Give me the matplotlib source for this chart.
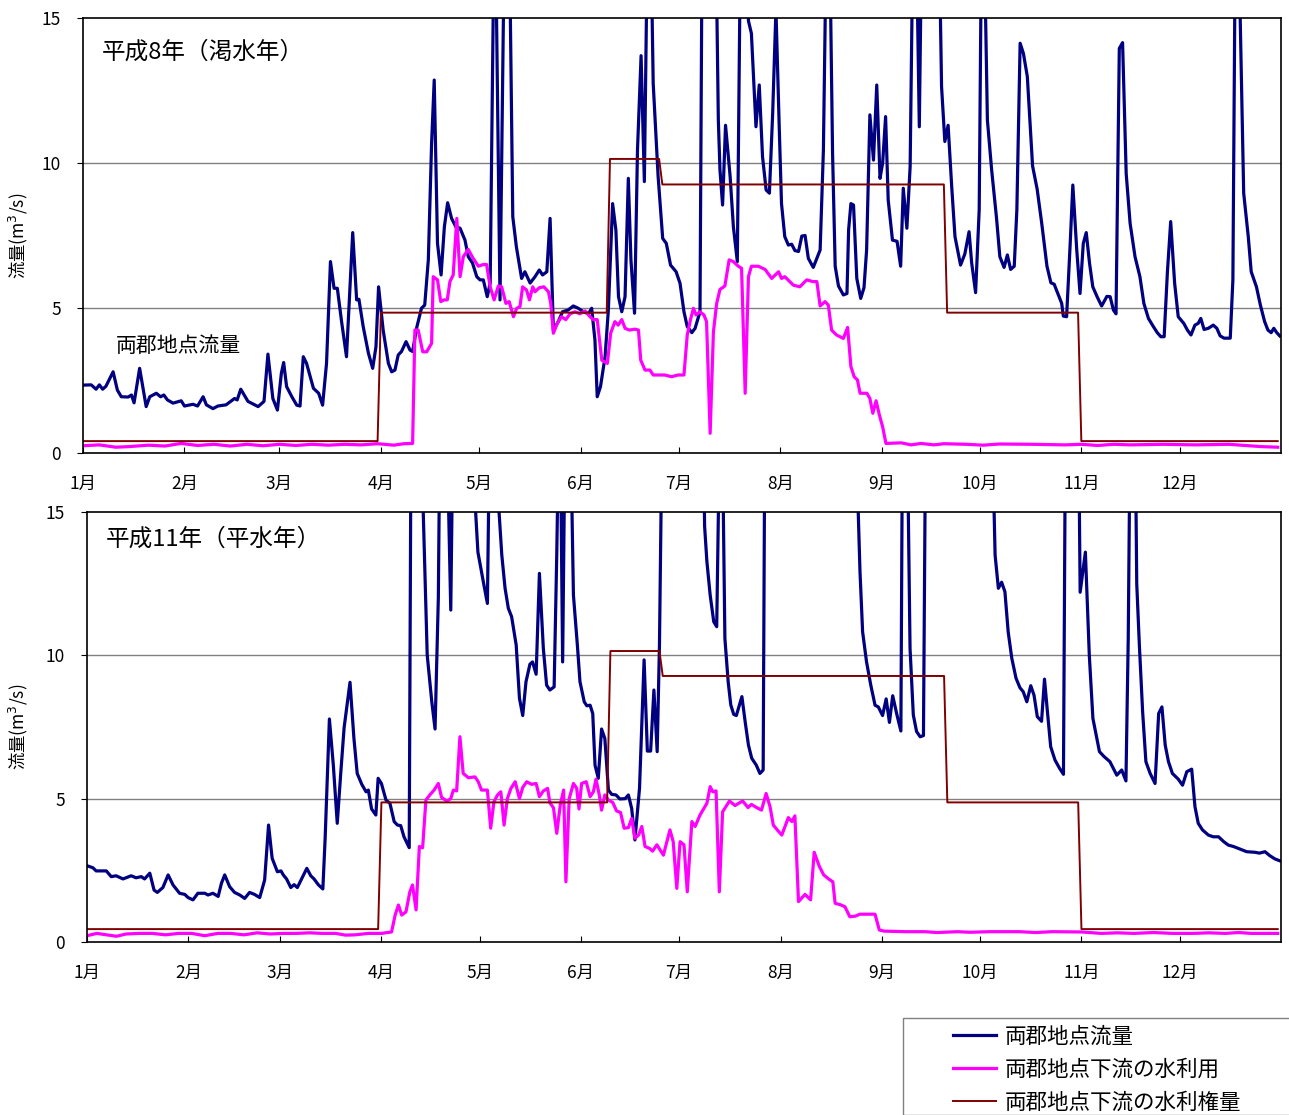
import matplotlib
matplotlib.use("Agg")
import matplotlib.pyplot as plt
from matplotlib.patches import Rectangle

plt.rcParams['font.family'] = ['Noto Sans CJK JP', 'DejaVu Sans']

months = ['1月', '2月', '3月', '4月', '5月', '6月', '7月', '8月', '9月', '10月', '11月', '12月']
month_start_h8 = [0, 31, 60, 91, 121, 152, 182, 213, 244, 274, 305, 335]   # 1996 (leap year)
month_start_h11 = [0, 31, 59, 90, 120, 151, 181, 212, 243, 273, 304, 334]  # 1999

series_names = ['両郡地点流量', '両郡地点下流の水利用', '両郡地点下流の水利権量']

# ---- H8 (1996) : day of year, m3/s ----
h8_flow_day = [0, 2.5, 4, 5, 6, 7, 9.2, 10.5, 11.7, 13.8, 14.8, 15.6, 17.3, 19.3, 20.4, 22.4, 23.7, 24.7, 25.8, 27.5,
               30, 31, 33.6, 35, 36.7, 37.7, 39.7, 41.2, 43.7, 46.3, 47.1, 48.2, 50.4, 53.5, 55.3, 56.5, 58, 59.4, 60.6, 61.3,
               62.2, 63.8, 65.3, 66.3, 67.3, 68.3, 70.4, 72, 73.2, 74.4, 75.6, 76.7, 77.7, 79, 80.5, 82.4, 83.6, 84.3, 85.6, 87.2,
               88.5, 89.5, 90.3, 91.7, 93.3, 94.3, 95.3, 96.3, 97.3, 98.7, 99.9, 100.7, 101.9, 103.4, 104.4, 105.5, 106.5, 107.3, 108.3, 109.4,
               110.4, 111.4, 112.6, 113.9, 115.2, 116.7, 117.7, 119, 120.3, 121.3, 122.3, 123.5, 124.4, 125.8, 127.4, 129.5, 131.3, 132.4, 134, 135,
               136.6, 138.1, 139.4, 140.4, 141.7, 142.7, 143.7, 145.2, 146.5, 148.2, 149.8, 151.3, 152.9, 154.4, 155.4, 156.4, 157.1, 158.1, 159.5, 160.5,
               161.8, 162.8, 163.6, 164.6, 165.6, 166.6, 167.4, 168.5, 169.4, 170.5, 171.5, 172.9, 174.2, 175.7, 177.1, 178.2, 179.5, 181.2, 182.4, 183.6,
               184.6, 186, 187, 188.5, 189.5, 192.5, 194.1, 194.6, 195.4, 196.3, 197.7, 198.7, 199.9, 201.5, 203.3, 204.2, 205.6, 206.6, 207.6, 208.7,
               209.7, 210.7, 211.7, 212.7, 213.4, 214.4, 215.5, 216.5, 217.5, 218.6, 219.6, 220.6, 221.6, 223.1, 225.2, 226.2, 227.6, 229, 229.8, 230.8,
               232.3, 233.4, 233.9, 234.6, 235.4, 236.4, 237.6, 238.6, 239.4, 240.4, 241.5, 242.5, 243.5, 244.3, 245.2, 246, 247.3, 248.7, 249.8, 250.6,
               251.7, 252.7, 254, 255.5, 257, 260.5, 262.3, 263.3, 264.3, 265.4, 266.4, 268.1, 269.4, 270.7, 271.5, 272.7, 273.8, 274.8, 275.6, 276.3,
               277.6, 279.1, 280.1, 281.4, 282.4, 283.4, 284.5, 285.3, 286.3, 287.3, 288.5, 290.1, 291.5, 292.9, 294.5, 295.7, 296.7, 298, 299, 299.5,
               300.5, 301.6, 302.4, 303.6, 304.6, 305.6, 306.5, 307.5, 308.5, 309.9, 311.2, 312.8, 313.8, 314.8, 315.6, 316.6, 317.6, 318.7, 319.9, 321.4,
               322.9, 324.1, 325.5, 327, 328.2, 329.3, 330.3, 331.3, 332.3, 333.5, 334.6, 336.3, 337.4, 338.5, 339.7, 340.7, 341.5, 342.5, 343.8, 345.3,
               346.4, 347.4, 348.6, 350.5, 351.3, 352.3, 354.1, 354.6, 356, 356.9, 358.5, 359.7, 361, 362, 363, 363.8, 364.7, 365.6]
h8_flow = [2.34, 2.35, 2.2, 2.35, 2.2, 2.3, 2.8, 2.17, 1.94, 1.93, 2.0, 1.73, 2.92, 1.6, 1.94, 2.06, 1.94, 2.0, 1.83, 1.72,
           1.8, 1.62, 1.68, 1.62, 1.94, 1.66, 1.53, 1.62, 1.66, 1.88, 1.83, 2.2, 1.78, 1.6, 1.78, 3.41, 1.88, 1.48, 2.75, 3.12,
           2.29, 1.94, 1.65, 1.62, 3.32, 3.09, 2.23, 2.06, 1.65, 3.09, 6.6, 5.68, 5.68, 4.53, 3.32, 7.6, 5.28, 5.3, 4.36, 3.44,
           2.92, 3.66, 5.73, 4.24, 3.09, 2.8, 2.86, 3.38, 3.5, 3.84, 3.55, 3.5, 4.3, 4.99, 5.1, 6.66, 10.68, 12.86, 7.23, 6.14,
           7.8, 8.63, 8.09, 7.8, 7.75, 7.34, 6.77, 6.55, 6.08, 5.97, 5.97, 5.39, 5.86, 20, 5.28, 25, 8.15, 7.11, 6.02, 6.25,
           5.86, 6.08, 6.31, 6.14, 6.25, 8.09, 4.24, 4.53, 4.87, 4.93, 5.07, 4.99, 4.87, 4.8, 4.99, 3.9, 1.94, 2.29, 3.32, 4.93,
           8.6, 7.69, 5.39, 4.87, 5.39, 9.47, 6.66, 4.82, 10.45, 13.7, 9.36, 22, 12.75, 9.54, 7.4, 7.23, 6.48, 6.25, 5.85, 4.87,
           4.36, 4.15, 4.3, 4.87, 25, 25, 11.48, 9.76, 8.55, 11.3, 9.54, 7.8, 6.6, 25, 14.9, 14.47, 11.25, 12.69, 10.22, 9.07,
           8.96, 11.71, 15.3, 11.25, 8.6, 7.46, 7.17, 7.2, 6.98, 6.95, 7.48, 7.5, 6.71, 6.4, 7.0, 10.45, 22, 10.33, 6.44, 5.76,
           5.45, 5.5, 7.69, 8.6, 8.55, 6.02, 5.33, 5.7, 7.0, 11.66, 10.1, 12.69, 9.47, 10.0, 11.6, 8.72, 7.34, 7.3, 6.44, 9.13,
           7.75, 9.88, 22, 11.25, 25, 25, 12.63, 10.74, 11.3, 9.18, 7.46, 6.48, 6.86, 7.63, 6.55, 5.53, 8.4, 22, 16, 11.48,
           9.76, 8.09, 6.77, 6.4, 6.83, 6.33, 6.44, 8.38, 14.13, 13.78, 12.98, 9.9, 9.1, 7.92, 6.44, 5.87, 5.82, 5.45, 5.16, 4.72,
           4.7, 7.23, 9.24, 7.0, 5.5, 7.23, 7.6, 6.55, 5.73, 5.37, 5.07, 5.4, 5.39, 4.93, 4.8, 13.95, 14.15, 9.64, 7.92, 6.77,
           6.08, 5.16, 4.64, 4.36, 4.15, 4.01, 4.01, 6.25, 7.98, 5.86, 4.7, 4.47, 4.24, 4.07, 4.41, 4.47, 4.64, 4.26, 4.3, 4.41,
           4.3, 4.04, 3.96, 3.96, 5.97, 22, 11.8, 8.96, 7.46, 6.25, 5.73, 5.1, 4.53, 4.24, 4.15, 4.3, 4.15, 4.04]

h8_use_day = [0, 5, 10, 14, 20, 25, 30, 35, 40, 45, 50, 55, 60, 65, 70, 75, 80, 85, 90, 95,
              98, 100.7, 101.4, 102.4, 103.8, 105, 106.5, 107, 108.3, 109.3, 110.3, 111.3, 112.1, 113.1, 114.2, 115.2, 116.2, 117.7, 119.2, 120.8,
              122.3, 123.3, 124.4, 125.6, 126.9, 127.9, 129.2, 130.2, 131.5, 132.5, 133.5, 134.3, 135.5, 136.4, 137.4, 138.1, 139.4, 140.8, 142.2, 142.9,
              143.7, 144.9, 146.2, 147.5, 148.8, 150.3, 151.8, 153.4, 154.9, 155.9, 157.1, 158.5, 160.2, 161.2, 162.5, 163.5, 164.6, 165.6, 166.9, 168.7,
              169.7, 170.4, 171.7, 173.2, 174.2, 177.7, 179.8, 181.8, 183.6, 184.6, 185.6, 186.5, 187.3, 188.5, 189.7, 190.5, 191.6, 192.6, 193.6, 194.6,
              196.1, 197.4, 198.7, 200.2, 201.2, 202.3, 203.3, 204.2, 206.3, 208.4, 210.4, 212.5, 213.4, 214.4, 217, 219, 221.1, 223, 224.2, 225.2,
              226.7, 227.7, 228.7, 230.2, 232.3, 233.6, 234.6, 235.6, 236.6, 237.4, 239.5, 240.4, 241.3, 242.3, 243.3, 244.3, 245.3, 250, 253, 256,
              260, 263, 270, 275, 280, 290, 300, 305, 310, 315, 320, 330, 340, 350, 355, 360, 365]
h8_use = [0.25, 0.28, 0.2, 0.22, 0.27, 0.24, 0.33, 0.26, 0.3, 0.24, 0.3, 0.25, 0.3, 0.26, 0.3, 0.27, 0.3, 0.28, 0.32, 0.27,
          0.32, 0.33, 4.24, 4.24, 3.49, 3.49, 3.78, 6.08, 5.97, 5.22, 5.28, 5.28, 5.91, 6.14, 8.09, 6.08, 6.77, 7.02, 6.71, 6.44,
          6.5, 6.5, 5.73, 5.28, 5.76, 5.73, 5.16, 5.22, 4.7, 4.99, 5.05, 5.73, 5.62, 5.28, 5.73, 5.56, 5.7, 5.73, 5.56, 5.16,
          4.13, 4.47, 4.7, 4.6, 4.8, 4.87, 4.8, 4.9, 4.7, 4.6, 4.6, 3.2, 3.09, 4.13, 4.53, 4.41, 4.6, 4.3, 4.24, 4.27,
          4.24, 3.2, 2.86, 2.86, 2.69, 2.69, 2.63, 2.69, 2.69, 4.07, 4.6, 4.99, 4.76, 4.87, 4.76, 4.53, 0.68, 4.18, 5.16, 5.64,
          5.76, 6.66, 6.6, 6.44, 6.37, 2.06, 6.08, 6.44, 6.44, 6.33, 6.02, 6.25, 6.02, 6.08, 5.79, 5.73, 5.97, 5.91, 5.91, 5.07,
          5.22, 5.1, 4.24, 4.07, 3.95, 4.33, 2.98, 2.63, 2.52, 2.06, 2.06, 1.88, 1.37, 1.8, 1.31, 0.9, 0.33, 0.35, 0.28, 0.33,
          0.28, 0.32, 0.3, 0.27, 0.31, 0.3, 0.28, 0.3, 0.26, 0.3, 0.28, 0.3, 0.28, 0.3, 0.26, 0.22, 0.2]

h8_right_day = [0, 90, 91, 160, 161, 176, 177, 263, 264, 304, 305, 365]
h8_right = [0.41, 0.41, 4.84, 4.84, 10.14, 10.14, 9.26, 9.26, 4.84, 4.84, 0.41, 0.41]

# ---- H11 (1999) ----
h11_flow_day = [0, 1.8, 2.8, 5.9, 7.4, 8.9, 11, 13.5, 15, 16.6, 17.6, 19.2, 20.5, 21.5, 23.2, 24.8, 26.3, 28.3, 29.9, 30.9,
                32.4, 33.9, 36, 37, 38.5, 40.1, 41.1, 42.1, 43.6, 45.1, 46.7, 48.2, 49.7, 51.2, 52.8, 54.3, 55.5, 56.6, 58.2, 59.3,
                60, 61, 62.3, 63.3, 64.3, 65.6, 67.2, 68.4, 69.4, 70.7, 72.1, 72.8, 74.1, 75.3, 76.5, 77.6, 78.6, 80.4, 81.6, 82.6,
                84, 85.3, 86, 87, 88.3, 89, 90, 91.4, 92.6, 93.9, 94.9, 95.9, 96.9, 98.5, 99.5, 101, 102.3, 104, 105.4, 106.4,
                107.4, 108.2, 110, 111.2, 112.3, 117.5, 118.3, 119.5, 121.1, 122.4, 123.3, 125.4, 126.8, 127.8, 128.8, 129.8, 131.2, 132.2, 133.2, 134.2,
                135.4, 136.2, 137.3, 138.3, 139.5, 140.5, 141.5, 142.8, 143.6, 144.5, 145.4, 146.5, 147.5, 148.7, 149.9, 150.7, 152, 152.8, 153.8, 154.6,
                155.3, 156.3, 157.3, 158.3, 159.4, 160.4, 161.7, 162.9, 164.5, 165.5, 166.5, 167.5, 168.9, 170.3, 171.3, 172.3, 173.3, 174.3, 175, 176,
                187.5, 188.8, 189.5, 190.5, 191.6, 192.5, 193.4, 194.2, 195, 196, 196.8, 197.7, 198.5, 200.2, 201.2, 202.2, 203.2, 204.6, 205.7, 206.7,
                207.5, 234.5, 235.5, 236.3, 237.1, 238.3, 239.6, 240.9, 241.9, 243.2, 244.3, 245.3, 246.3, 247.6, 248.8, 249.6, 250.3, 251.6, 252.6, 253.6,
                254.7, 255.7, 256.6, 276.5, 277.1, 277.6, 278.6, 279.6, 280.6, 281.6, 282.7, 284, 285.2, 286.2, 287.3, 288.5, 289.5, 290.5, 291.8, 292.7,
                293.6, 294.6, 295.9, 297.3, 298.5, 299.3, 302.8, 303.6, 305.2, 306.4, 307.5, 309.5, 310.9, 312.7, 314.8, 316.3, 317.6, 318.3, 319.2, 320.1,
                320.9, 321.7, 322.7, 323.7, 325, 326.5, 327.6, 328.6, 329.6, 330.6, 331.8, 333.6, 334.9, 336.2, 337.7, 338.7, 339.7, 341, 342.8, 344.3,
                345.9, 347.5, 348.9, 350.5, 352.5, 354.5, 357, 358.4, 360.1, 361.6, 363.1, 364.7]
h11_flow = [2.66, 2.59, 2.48, 2.48, 2.28, 2.31, 2.2, 2.31, 2.24, 2.28, 2.2, 2.4, 1.81, 1.73, 1.9, 2.34, 1.99, 1.7, 1.66, 1.55,
            1.47, 1.7, 1.7, 1.64, 1.7, 1.59, 2.05, 2.34, 1.93, 1.73, 1.64, 1.52, 1.73, 1.66, 1.55, 2.16, 4.08, 2.92, 2.45, 2.48,
            2.34, 2.2, 1.9, 2.0, 1.9, 2.2, 2.57, 2.31, 2.2, 2.0, 1.85, 3.62, 7.78, 6.17, 4.14, 5.94, 7.48, 9.06, 7.1, 5.88,
            5.5, 5.24, 5.3, 4.64, 4.43, 5.71, 5.53, 4.95, 4.84, 4.2, 4.08, 4.06, 3.67, 3.29, 30, 28, 17, 10.01, 8.38, 7.43,
            12, 22, 18, 11.58, 22, 25, 16, 13.6, 12.6, 11.81, 20, 16, 13.5, 12.34, 11.64, 11.35, 10.36, 8.5, 7.9, 9.08,
            9.69, 9.77, 9.34, 12.86, 10.24, 8.96, 8.79, 8.9, 13.5, 20, 9.77, 22, 20, 12.1, 10.36, 9.08, 8.38, 8.24, 8.26, 7.97,
            6.17, 5.71, 7.43, 7.1, 5.3, 5.15, 5.13, 4.99, 5.0, 5.13, 4.66, 3.56, 5.36, 9.84, 6.66, 6.66, 8.79, 6.64, 10.36, 20,
            25, 14.5, 13.27, 12.1, 11.17, 11.0, 18, 18, 10.59, 9.08, 8.27, 7.94, 7.9, 8.56, 7.68, 6.87, 6.41, 6.17, 5.88, 6.0,
            25, 25, 16, 12.92, 10.82, 9.77, 8.96, 8.26, 8.2, 7.9, 8.48, 7.66, 8.59, 7.92, 7.36, 25, 22, 10.24, 7.92, 7.34,
            7.16, 7.2, 22, 22, 16, 13.5, 12.34, 12.55, 12.22, 10.82, 9.9, 9.2, 8.87, 8.73, 8.38, 8.94, 8.61, 7.86, 7.7, 9.17,
            8.03, 6.81, 6.35, 6.06, 5.85, 22, 22, 12.2, 13.6, 10.0, 7.8, 6.64, 6.47, 6.29, 5.82, 6.0, 5.62, 10.59, 22, 22,
            12.5, 10.36, 8.03, 6.29, 5.88, 5.53, 7.97, 8.2, 6.87, 6.29, 5.88, 5.68, 5.47, 5.94, 6.03, 4.72, 4.14, 3.91, 3.73, 3.67,
            3.67, 3.5, 3.38, 3.33, 3.24, 3.15, 3.13, 3.1, 3.15, 3.01, 2.9, 2.83]

h11_use_day = [0, 3, 6, 9, 12, 16, 20, 24, 28, 32, 36, 40, 44, 48, 52, 56, 60, 64, 68, 72,
               76, 79, 82, 86, 90, 93.1, 94.2, 95.2, 96.2, 97.5, 98.7, 99.5, 100.6, 101.6, 102.6, 103.6, 104.8, 106.1, 107.4, 108.4,
               110, 111.2, 112, 113, 114, 115, 116.6, 118.6, 119.6, 120.6, 122.4, 123.4, 124.4, 125.5, 126.5, 127.5, 128.5, 129.6, 130.9, 132.2,
               133.2, 134.4, 135.9, 137.3, 138.3, 139.5, 140.8, 141.5, 142.6, 143.6, 144.7, 145.7, 146.4, 147.4, 148.7, 149.7, 150.4, 151.2, 152.6, 153.8,
               154.8, 155.6, 156.6, 157.3, 158.3, 159.4, 160.7, 161.9, 163.1, 164.2, 165.5, 166.5, 167.5, 168.6, 169.6, 170.6, 171.9, 172.9, 174.2, 176.2,
               178.2, 179.2, 180.3, 181.3, 182.5, 183.5, 184.9, 185.9, 187.4, 189.5, 190.5, 191.3, 192.3, 193.3, 194.3, 196.4, 198.1, 200.4, 202.1, 203.1,
               204.7, 206.2, 207.6, 208.8, 209.8, 211, 212.4, 213.4, 214.4, 215.5, 216.4, 217.5, 219.5, 221.2, 222.3, 223.9, 225.2, 226.7, 228, 228.7,
               230.3, 231.7, 233.2, 234.8, 236.3, 240.9, 242.2, 243.6, 250, 256, 260, 266, 270, 276, 285, 290, 295, 304, 310, 315,
               320, 326, 332, 338, 343, 348, 352, 356, 360, 364]
h11_use = [0.22, 0.3, 0.25, 0.2, 0.28, 0.3, 0.3, 0.25, 0.3, 0.3, 0.22, 0.3, 0.3, 0.25, 0.32, 0.28, 0.3, 0.3, 0.32, 0.3,
           0.3, 0.24, 0.25, 0.3, 0.3, 0.35, 0.94, 1.29, 0.94, 1.05, 1.75, 1.99, 1.12, 3.33, 3.29, 4.95, 5.13, 5.3, 5.53, 5.04,
           4.92, 5.0, 5.3, 5.27, 7.16, 5.88, 5.73, 5.76, 5.59, 5.3, 5.3, 3.97, 4.89, 5.13, 5.24, 4.08, 5.0, 5.36, 5.59, 5.0,
           5.39, 5.59, 5.5, 5.53, 5.07, 5.27, 5.36, 4.86, 4.68, 3.79, 4.8, 5.3, 2.1, 5.0, 5.53, 5.36, 4.64, 5.53, 5.59, 5.07,
           5.24, 5.68, 5.13, 4.6, 5.13, 4.95, 4.87, 4.57, 4.52, 3.97, 3.99, 4.31, 3.62, 3.73, 4.03, 3.33, 3.27, 3.17, 3.39, 3.03,
           3.91, 3.5, 1.87, 3.5, 3.39, 1.75, 4.2, 4.03, 4.43, 4.84, 5.42, 5.24, 5.27, 1.75, 4.54, 4.92, 4.76, 4.92, 4.69, 4.8,
           4.69, 4.6, 5.18, 4.72, 4.08, 3.91, 3.73, 4.03, 4.34, 4.2, 4.4, 1.41, 1.66, 1.47, 3.13, 2.63, 2.34, 2.2, 2.1, 1.35,
           1.3, 1.23, 0.88, 0.9, 0.97, 0.97, 0.42, 0.38, 0.36, 0.36, 0.33, 0.36, 0.34, 0.36, 0.36, 0.33, 0.36, 0.35, 0.3, 0.32,
           0.3, 0.33, 0.3, 0.3, 0.32, 0.3, 0.33, 0.3, 0.3, 0.3]

h11_right_day = [0, 89, 90, 159, 160, 175, 176, 262, 263, 303, 304, 364]
h11_right = [0.45, 0.45, 4.87, 4.87, 10.15, 10.15, 9.28, 9.28, 4.87, 4.87, 0.45, 0.45]

W, H = 1289, 1115
fig = plt.figure(figsize=(W / 100, H / 100), dpi=100)

flow_color = '#000080'
use_color = '#FF00FF'
right_color = '#800000'


def panel(rect, fday, flow, uday, use, rday, right, mstart, ndays, title, ylab_x):
    ax = fig.add_axes(rect)
    l1, = ax.plot(fday, flow, color=flow_color, lw=2.3, solid_joinstyle='round')
    l2, = ax.plot(uday, use, color=use_color, lw=2.3, solid_joinstyle='round')
    l3, = ax.plot(rday, right, color=right_color, lw=1.4)
    ax.set_xlim(0, ndays)
    ax.set_ylim(0, 15)
    ax.set_yticks([0, 5, 10, 15])
    ax.set_xticks(mstart)
    ax.set_xticklabels(months)
    ax.tick_params(axis='x', direction='in', length=4, pad=16, labelsize=12.5)
    ax.tick_params(axis='y', direction='out', length=4, pad=12, labelsize=12.5)
    for y in (5, 10):
        ax.axhline(y, color='#808080', lw=1.0, zorder=0)
    for s in ax.spines.values():
        s.set_linewidth(1.2)
    ax.set_ylabel('流量(m$^3$/s)', fontsize=12.5)
    ax.yaxis.set_label_coords(ylab_x, 0.5)
    ax.text(0.016, title[1], title[0], transform=ax.transAxes, fontsize=17, va='center', ha='left')
    return ax, (l1, l2, l3)


ax1, handles = panel([83 / W, 1 - 453 / H, 1198 / W, 435 / H], h8_flow_day, h8_flow, h8_use_day, h8_use,
                     h8_right_day, h8_right, month_start_h8, 366, ('平成8年（渇水年）', 0.922), -0.044)
ax1.text(0.0275, 0.246, '両郡地点流量', transform=ax1.transAxes, fontsize=15, va='center', ha='left')

ax2, _ = panel([87 / W, 1 - 942 / H, 1194 / W, 430 / H], h11_flow_day, h11_flow, h11_use_day, h11_use,
               h11_right_day, h11_right, month_start_h11, 365, ('平成11年（平水年）', 0.937), -0.0477)

# legend box (runs off the right/bottom edge like the original)
fig.add_artist(Rectangle((903 / W, 0), 0.5, 1 - 1018 / H, transform=fig.transFigure,
                         facecolor='white', edgecolor='#808080', lw=1.0))
fig.legend(handles, series_names, loc='upper left', bbox_to_anchor=(953 / W, 1 - 1026 / H),
           frameon=False, fontsize=15.5, handlelength=2.0, handletextpad=0.4, labelspacing=0.5,
           borderpad=0, borderaxespad=0)

fig.savefig('out.png', dpi=100)
